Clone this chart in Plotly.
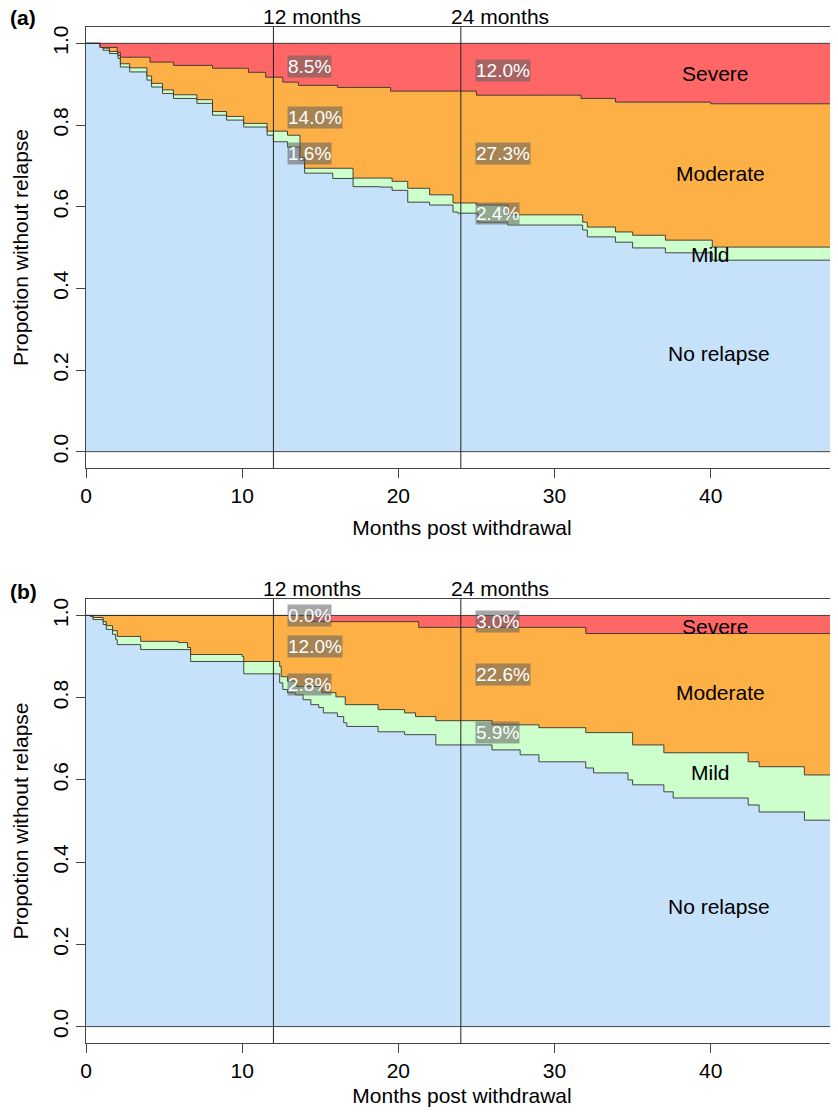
import plotly.graph_objects as go

# ---------------- data (months, proportion) ----------------
# Panel (a)
a_none_t = [0, 0.9, 1.1, 1.5, 2.05, 2.2, 2.8, 3.9, 4.2, 4.9, 5.6, 7.1, 8.1, 9.0, 10.1, 11.6, 12.0, 12.9, 13.7, 14.0, 15.8, 17.1, 18.8, 19.6, 20.6, 22.0, 23.5, 23.8, 25.1, 27.0, 31.8, 32.1, 33.9, 35.0, 37.1, 40.1]
a_none_v = [1.0, 0.99, 0.983, 0.975, 0.963, 0.942, 0.930, 0.910, 0.893, 0.877, 0.865, 0.853, 0.824, 0.812, 0.795, 0.775, 0.759, 0.746, 0.714, 0.682, 0.669, 0.649, 0.648, 0.640, 0.611, 0.604, 0.587, 0.584, 0.562, 0.555, 0.543, 0.526, 0.513, 0.499, 0.487, 0.469]
a_mild_t = [0, 0.9, 1.1, 1.5, 2.05, 2.2, 2.8, 3.9, 4.2, 4.9, 5.6, 7.1, 8.1, 9.0, 10.1, 11.6, 12.9, 13.7, 14.0, 17.1, 18.8, 19.6, 20.6, 22.0, 23.5, 25.0, 27.0, 31.8, 32.1, 33.9, 35.0, 37.1, 40.1]
a_mild_v = [1.0, 0.993, 0.988, 0.98, 0.97, 0.95, 0.94, 0.92, 0.902, 0.886, 0.874, 0.862, 0.833, 0.821, 0.804, 0.785, 0.775, 0.72, 0.694, 0.67, 0.67, 0.662, 0.645, 0.629, 0.609, 0.604, 0.580, 0.562, 0.550, 0.538, 0.530, 0.518, 0.501]
a_mod_t = [0, 0.9, 2.0, 2.2, 4.1, 5.6, 8.1, 10.4, 11.5, 12.6, 13.6, 16.1, 19.5, 25.0, 31.7, 33.9, 40.0]
a_mod_v = [1.0, 0.99, 0.978, 0.966, 0.954, 0.946, 0.939, 0.929, 0.917, 0.905, 0.897, 0.892, 0.883, 0.873, 0.865, 0.856, 0.852]

# Panel (b)
b_none_t = [0, 0.26, 0.45, 1.1, 1.3, 1.7, 1.9, 2.0, 3.5, 6.7, 10.1, 12.4, 12.6, 12.9, 13.4, 13.9, 14.4, 14.9, 15.2, 16.1, 16.5, 16.7, 18.7, 20.4, 22.4, 26.0, 27.8, 29.0, 32.0, 32.5, 34.7, 35.0, 37.0, 37.6, 42.4, 43.1, 46.0]
b_none_v = [1.0, 0.998, 0.99, 0.978, 0.966, 0.954, 0.941, 0.929, 0.917, 0.888, 0.858, 0.836, 0.820, 0.812, 0.807, 0.795, 0.783, 0.776, 0.763, 0.754, 0.739, 0.730, 0.717, 0.710, 0.685, 0.673, 0.661, 0.644, 0.629, 0.617, 0.600, 0.588, 0.571, 0.556, 0.539, 0.522, 0.502]
b_mild_t = [0, 0.26, 0.45, 1.1, 1.3, 1.7, 2.0, 3.5, 5.9, 6.5, 6.7, 10.0, 10.1, 12.4, 12.5, 12.9, 13.5, 15.1, 16.0, 16.6, 18.7, 20.4, 21.1, 22.4, 26.0, 29.0, 32.0, 35.0, 37.0, 42.4, 43.1, 46.0]
b_mild_v = [1.0, 0.999, 0.995, 0.985, 0.975, 0.963, 0.949, 0.937, 0.934, 0.922, 0.905, 0.900, 0.888, 0.876, 0.851, 0.840, 0.827, 0.812, 0.802, 0.783, 0.771, 0.763, 0.754, 0.744, 0.734, 0.727, 0.715, 0.685, 0.666, 0.644, 0.632, 0.612]
b_mod_t = [0, 14.4, 21.3, 32.0]
b_mod_v = [1.0, 0.985, 0.971, 0.956]

a_pct = ["8.5%", "14.0%", "1.6%", "12.0%", "27.3%", "2.4%"]
a_pct_y = [0.944, 0.819, 0.731, 0.934, 0.731, 0.584]
b_pct = ["0.0%", "12.0%", "2.8%", "3.0%", "22.6%", "5.9%"]
b_pct_y = [1.0, 0.925, 0.832, 0.985, 0.856, 0.715]
pct_x = [12.9, 12.9, 12.9, 24.9, 24.9, 24.9]

cat_names = ["Severe", "Moderate", "Mild", "No relapse"]
a_cat_y = [0.927, 0.68, 0.484, 0.24]
b_cat_y = [0.973, 0.812, 0.617, 0.293]
cat_x = [40.3, 40.6, 40.0, 40.5]

x_ticks = [0, 10, 20, 30, 40]
y_ticks = [0.0, 0.2, 0.4, 0.6, 0.8, 1.0]
XMAX = 48.15

BLUE = "#C6E2FA"; GREEN = "#CCFFCC"; ORANGE = "#FDB045"; RED = "#FF6666"
LINE = "rgba(40,40,40,0.85)"
FONT = "Liberation Sans, Arial, sans-serif"
FS = 21
W, H, ML = 830, 1099, 78   # page body has an 8px margin

fig = go.Figure()

def ext(t, v):
    return list(t) + [XMAX], list(v) + [v[-1]]

def panel(n, none, mild, mod):
    xa = "x" if n == 1 else "x2"
    ya = "y" if n == 1 else "y2"
    kw = dict(xaxis=xa, yaxis=ya, showlegend=False, hoverinfo="skip", mode="lines")
    t, v = ext(*none)
    fig.add_trace(go.Scatter(x=t, y=v, line=dict(shape="hv", color=LINE, width=1), fill="tozeroy", fillcolor=BLUE, **kw))
    t, v = ext(*mild)
    fig.add_trace(go.Scatter(x=t, y=v, line=dict(shape="hv", color=LINE, width=1), fill="tonexty", fillcolor=GREEN, **kw))
    t, v = ext(*mod)
    fig.add_trace(go.Scatter(x=t, y=v, line=dict(shape="hv", color=LINE, width=1), fill="tonexty", fillcolor=ORANGE, **kw))
    fig.add_trace(go.Scatter(x=[0, XMAX], y=[1, 1], line=dict(color=LINE, width=1), fill="tonexty", fillcolor=RED, **kw))
    fig.add_trace(go.Scatter(x=[0, XMAX], y=[0, 0], line=dict(color=LINE, width=1), **kw))

panel(1, (a_none_t, a_none_v), (a_mild_t, a_mild_v), (a_mod_t, a_mod_v))
panel(2, (b_none_t, b_none_v), (b_mild_t, b_mild_v), (b_mod_t, b_mod_v))

ann = []
shapes = []
for n, (pcts, pys, cys, lab, ly) in enumerate([(a_pct, a_pct_y, a_cat_y, "(a)", 17), (b_pct, b_pct_y, b_cat_y, "(b)", 591)], start=1):
    xr = "x" if n == 1 else "x2"
    yr = "y" if n == 1 else "y2"
    for txt, x, y in zip(pcts, pct_x, pys):
        ann.append(dict(x=x, y=y, xref=xr, yref=yr, text=txt, showarrow=False, xanchor="left",
                        font=dict(color="white", size=19, family=FONT), bgcolor="rgba(95,95,95,0.55)", borderpad=0))
    for txt, x, y in zip(cat_names, cat_x, cys):
        ann.append(dict(x=x, y=y, xref=xr, yref=yr, text=txt, showarrow=False,
                        font=dict(color="black", size=FS, family=FONT)))
    for m in (12, 24):
        shapes.append(dict(type="line", x0=m, x1=m, y0=-0.04, y1=1.04, xref=xr, yref=yr,
                           line=dict(color="#222", width=1)))
        ann.append(dict(x=m, y=1.04, xref=xr, yref=yr, text=f"{m} months", showarrow=False,
                        xanchor="left", xshift=-12, yanchor="bottom", yshift=-3,
                        font=dict(color="black", size=FS, family=FONT)))
    ann.append(dict(x=(8 - 8 - ML) / (W - ML), y=1 - (ly - 8) / H, xref="paper", yref="paper",
                    text=f"<b>{lab}</b>", showarrow=False, xanchor="left", yanchor="middle",
                    font=dict(color="black", size=FS, family=FONT)))

axis_common = dict(showline=True, mirror=True, linecolor="#444", linewidth=1, ticks="outside", ticklen=9,
                   tickcolor="#444", showgrid=False, zeroline=False, automargin=False,
                   tickfont=dict(size=FS, family=FONT, color="black"))
xcommon = dict(axis_common, range=[0, XMAX], tickvals=x_ticks, domain=[0, 1],
               title=dict(text="Months post withdrawal", font=dict(size=FS, family=FONT, color="black"), standoff=14))
ycommon = dict(axis_common, range=[-0.04, 1.04], tickvals=y_ticks, ticktext=[f"{v:.1f}" for v in y_ticks],
               tickangle=-90,
               title=dict(text="Propotion without relapse", font=dict(size=FS, family=FONT, color="black"), standoff=14))

fig.update_layout(
    width=W, height=H, margin=dict(l=ML, r=0, t=0, b=0),
    paper_bgcolor="white", plot_bgcolor="white",
    xaxis=dict(xcommon, anchor="y"),
    yaxis=dict(ycommon, domain=[1 - 460 / H, 1 - 19 / H], anchor="x"),
    xaxis2=dict(xcommon, anchor="y2"),
    yaxis2=dict(ycommon, domain=[1 - 1035 / H, 1 - 591 / H], anchor="x2"),
    annotations=ann, shapes=shapes,
)
fig.write_html("out.html")
